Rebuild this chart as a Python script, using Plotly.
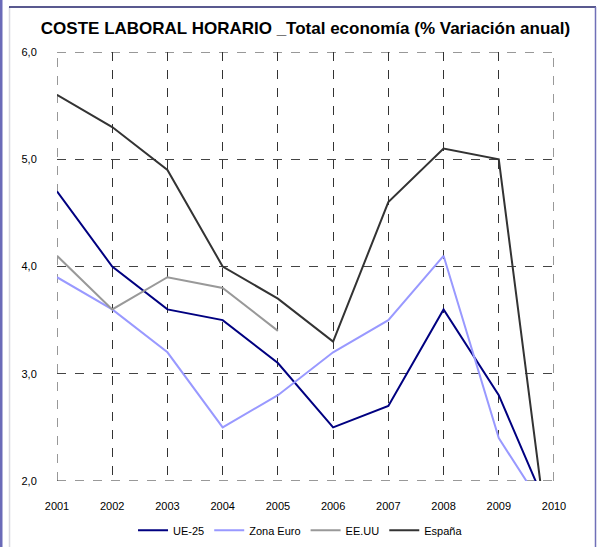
import plotly.graph_objects as go

years = [2001, 2002, 2003, 2004, 2005, 2006, 2007, 2008, 2009, 2010]
ue25 = [4.7, 4.0, 3.6, 3.5, 3.1, 2.5, 2.7, 3.6, 2.8, 1.6]
zona_euro = [3.9, 3.6, 3.2, 2.5, 2.8, 3.2, 3.5, 4.1, 2.4, 1.6]
eeuu = [4.1, 3.6, 3.9, 3.8, 3.4, None, None, None, None, None]
espana = [5.6, 5.3, 4.9, 4.0, 3.7, 3.3, 4.6, 5.1, 5.0, 1.0]
y_ticks = [2, 3, 4, 5, 6]

series = [
    ("UE-25", ue25, "#000080"),
    ("Zona Euro", zona_euro, "#9999FF"),
    ("EE.UU", eeuu, "#999999"),
    ("España", espana, "#333333"),
]

fig = go.Figure()
for name, vals, col in series:
    fig.add_trace(go.Scatter(x=years, y=vals, name=name, mode="lines",
                             line=dict(color=col, width=2), connectgaps=False))

W, H = 604, 547
L, R, T, B = 57, 554, 52, 481


def px_x(p):
    return (p - L) / (R - L)


def px_y(p):
    return (B - p) / (B - T)


grid = dict(color="#333333", width=1, dash="dash")
shapes = [
    # plot-area edge gridlines (plotly omits gridlines on the range edges)
    dict(type="line", xref="x", yref="y", x0=years[0], x1=years[-1], y0=y_ticks[-1], y1=y_ticks[-1], line=grid, layer="below"),
    dict(type="line", xref="x", yref="y", x0=years[0], x1=years[-1], y0=y_ticks[0], y1=y_ticks[0], line=grid, layer="below"),
    dict(type="line", xref="x", yref="y", x0=years[0], x1=years[0], y0=y_ticks[0], y1=y_ticks[-1], line=grid, layer="below"),
    dict(type="line", xref="x", yref="y", x0=years[-1], x1=years[-1], y0=y_ticks[0], y1=y_ticks[-1], line=grid, layer="below"),
    # outer frame
    dict(type="line", xref="paper", yref="paper", x0=px_x(1), x1=px_x(1), y0=px_y(0), y1=px_y(H),
         line=dict(color="#6a6ab8", width=3)),
    dict(type="line", xref="paper", yref="paper", x0=px_x(9.5), x1=px_x(9.5), y0=px_y(7), y1=px_y(H),
         line=dict(color="#d8d8e0", width=1.5)),
    dict(type="line", xref="paper", yref="paper", x0=px_x(9), x1=px_x(596), y0=px_y(7), y1=px_y(7),
         line=dict(color="#22226a", width=1.5)),
    dict(type="line", xref="paper", yref="paper", x0=px_x(595.5), x1=px_x(595.5), y0=px_y(7), y1=px_y(H),
         line=dict(color="#7070b8", width=1.5)),
]

fig.update_layout(
    width=W, height=H,
    margin=dict(l=L, r=W - R, t=T, b=H - B, autoexpand=False),
    paper_bgcolor="white", plot_bgcolor="white",
    separators=",.",
    font=dict(family="Liberation Sans, Arial, sans-serif", size=11, color="#000000"),
    title=dict(text="<b>COSTE LABORAL HORARIO _Total economía (% Variación anual)</b>",
               x=0.5, xref="paper", xanchor="center", y=1 - 28 / H, yanchor="middle",
               font=dict(size=17, color="#000000")),
    xaxis=dict(range=[years[0], years[-1]], tickmode="array", tickvals=years,
               ticktext=[str(y) for y in years], showgrid=True, gridcolor="#333333",
               griddash="dash", gridwidth=1, zeroline=False, showline=False,
               ticks="outside", ticklen=15, tickcolor="rgba(0,0,0,0)",
               tickfont=dict(size=11)),
    yaxis=dict(range=[y_ticks[0], y_ticks[-1]], tickvals=y_ticks, tickformat=".1f", showgrid=True,
               gridcolor="#444444", griddash="dash", gridwidth=1, zeroline=False, showline=False,
               ticks="outside", ticklen=17, tickcolor="rgba(0,0,0,0)",
               tickfont=dict(size=11)),
    legend=dict(orientation="h", x=0.49, xanchor="center", y=-0.115, yanchor="middle",
                font=dict(size=11), itemwidth=30, tracegroupgap=0),
    shapes=shapes,
    showlegend=True,
)

fig.write_html("out.html", config={"displayModeBar": False},
               post_script="document.body.style.margin='0';")
